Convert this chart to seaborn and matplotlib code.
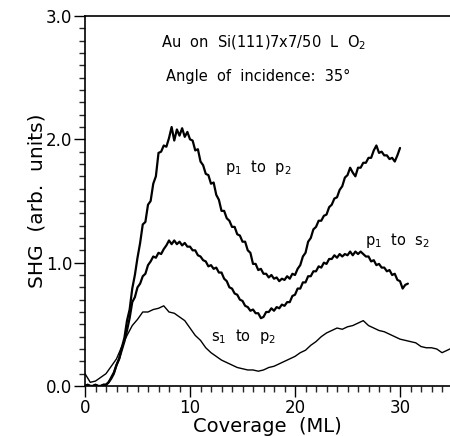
import matplotlib
matplotlib.use("Agg")
import matplotlib.pyplot as plt
import seaborn as sns
import numpy as np
import pandas as pd
from matplotlib.ticker import MultipleLocator

# coverage grids (ML) for each trace
cov_p1p2 = np.arange(0, 30.01, 0.25)
cov_p1s2 = np.arange(0, 30.76, 0.25)
cov_s1p2 = np.arange(0, 35.01, 0.5)

# p1 to p2 SHG (arb. units)
shg_p1p2 = [
    0.00, 0.01, 0.00, 0.00, 0.01, 0.00, 0.00, 0.01, 0.01, 0.03,
    0.06, 0.10, 0.17, 0.22, 0.31, 0.39, 0.53, 0.62, 0.79, 0.90,
    1.04, 1.16, 1.31, 1.33, 1.47, 1.50, 1.64, 1.70, 1.89, 1.90,
    1.95, 1.94, 2.01, 2.10, 1.99, 2.08, 2.03, 2.09, 2.02, 2.06,
    2.00, 1.99, 1.91, 1.92, 1.82, 1.79, 1.72, 1.71, 1.64, 1.65,
    1.55, 1.51, 1.42, 1.42, 1.36, 1.34, 1.29, 1.29, 1.23, 1.22,
    1.17, 1.17, 1.10, 1.08, 0.99, 0.99, 0.94, 0.95, 0.91, 0.91,
    0.88, 0.90, 0.87, 0.88, 0.85, 0.87, 0.86, 0.89, 0.87, 0.91,
    0.90, 0.95, 0.98, 1.05, 1.08, 1.17, 1.20, 1.27, 1.29, 1.34,
    1.34, 1.38, 1.39, 1.45, 1.47, 1.52, 1.53, 1.59, 1.62, 1.69,
    1.71, 1.77, 1.73, 1.70, 1.77, 1.77, 1.81, 1.81, 1.85, 1.85,
    1.91, 1.95, 1.89, 1.90, 1.87, 1.87, 1.84, 1.85, 1.82, 1.87,
    1.93,
]

# p1 to s2
shg_p1s2 = [
    0.00, 0.01, 0.00, 0.00, 0.01, 0.00, 0.00, 0.01, 0.01, 0.03,
    0.07, 0.11, 0.17, 0.22, 0.29, 0.36, 0.45, 0.55, 0.68, 0.72,
    0.80, 0.83, 0.89, 0.91, 0.98, 1.01, 1.05, 1.04, 1.08, 1.07,
    1.11, 1.14, 1.18, 1.15, 1.18, 1.15, 1.17, 1.14, 1.16, 1.13,
    1.13, 1.10, 1.10, 1.06, 1.05, 1.02, 1.01, 0.97, 0.98, 0.95,
    0.96, 0.92, 0.92, 0.87, 0.85, 0.80, 0.79, 0.75, 0.74, 0.70,
    0.69, 0.65, 0.64, 0.61, 0.62, 0.59, 0.59, 0.55, 0.56, 0.60,
    0.60, 0.63, 0.61, 0.64, 0.63, 0.66, 0.65, 0.68, 0.68, 0.73,
    0.74, 0.79, 0.79, 0.84, 0.84, 0.89, 0.89, 0.93, 0.93, 0.97,
    0.96, 1.00, 0.99, 1.03, 1.03, 1.06, 1.04, 1.07, 1.05, 1.07,
    1.06, 1.09, 1.06, 1.09, 1.07, 1.09, 1.07, 1.05, 1.05, 1.01,
    1.02, 0.98, 0.99, 0.96, 0.96, 0.93, 0.94, 0.90, 0.91, 0.86,
    0.85, 0.79, 0.82, 0.83,
]

# s1 to p2
shg_s1p2 = [
    0.10, 0.03, 0.04, 0.07, 0.10, 0.16, 0.22, 0.32, 0.41, 0.49,
    0.54, 0.60, 0.60, 0.62, 0.63, 0.65, 0.60, 0.59, 0.56, 0.53,
    0.47, 0.41, 0.37, 0.31, 0.27, 0.24, 0.21, 0.19, 0.17, 0.15,
    0.14, 0.13, 0.13, 0.12, 0.13, 0.15, 0.16, 0.18, 0.20, 0.22,
    0.24, 0.27, 0.29, 0.33, 0.36, 0.40, 0.43, 0.45, 0.47, 0.46,
    0.48, 0.49, 0.51, 0.53, 0.49, 0.47, 0.45, 0.44, 0.42, 0.40,
    0.38, 0.37, 0.36, 0.35, 0.32, 0.31, 0.31, 0.30, 0.27, 0.29,
    0.31,
]

traces = [
    (cov_p1p2, shg_p1p2, 1.6),
    (cov_p1s2, shg_p1s2, 1.6),
    (cov_s1p2, shg_s1p2, 1.0),
]

sns.set_style("ticks")
plt.rcParams['font.family'] = ['DejaVu Sans']
plt.rcParams['mathtext.default'] = 'regular'
plt.rcParams['text.color'] = 'black'
plt.rcParams['axes.labelcolor'] = 'black'

fig = plt.figure(figsize=(4.5, 4.36), dpi=100)
ax = fig.add_axes([85 / 450, 50 / 436, 365 / 450, 370 / 436])

for cov, shg, lw in traces:
    sns.lineplot(x=cov, y=shg, ax=ax, color='black', linewidth=lw,
                 estimator=None, sort=False)

ax.set_xlim(0, 34.76)
ax.set_ylim(0, 3.0)
ax.xaxis.set_major_locator(MultipleLocator(10))
ax.xaxis.set_minor_locator(MultipleLocator(1))
ax.yaxis.set_major_locator(MultipleLocator(1.0))
ax.yaxis.set_minor_locator(MultipleLocator(0.1))
ax.yaxis.set_major_formatter(matplotlib.ticker.FormatStrFormatter('%.1f'))
ax.tick_params(which='major', direction='out', length=8, width=1.0,
               labelsize=12, colors='black', pad=1)
ax.tick_params(which='minor', direction='out', length=4, width=1.0)

for side in ['left', 'bottom', 'top']:
    ax.spines[side].set_linewidth(1.2)
    ax.spines[side].set_color('black')
ax.spines['right'].set_visible(False)

ax.set_xlabel('Coverage  (ML)', fontsize=14, labelpad=0)
ax.set_ylabel('SHG  (arb.  units)', fontsize=14.5, labelpad=0)

ax.text(17, 2.78, 'Au  on  Si(111)7x7/50  L  O$_2$', ha='center', va='center', fontsize=10.5)
ax.text(16.5, 2.51, 'Angle  of  incidence:  35°', ha='center', va='center', fontsize=10.5)
ax.text(16.5, 1.77, 'p$_1$  to  p$_2$', ha='center', va='center', fontsize=10.5)
ax.text(29.8, 1.18, 'p$_1$  to  s$_2$', ha='center', va='center', fontsize=10.5)
ax.text(15.1, 0.40, 's$_1$  to  p$_2$', ha='center', va='center', fontsize=10.5)

fig.savefig('out.png', dpi=100)
